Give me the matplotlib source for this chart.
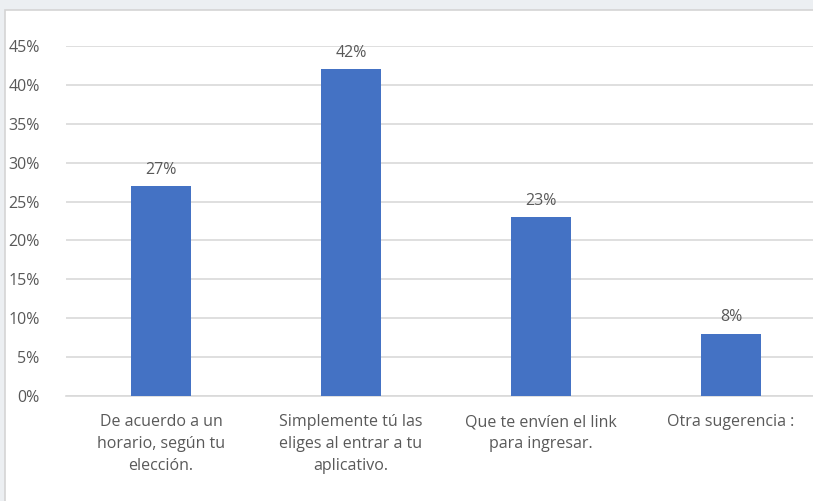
import matplotlib.pyplot as plt
from matplotlib.patches import Rectangle
from matplotlib.ticker import PercentFormatter

categorias = ['De acuerdo a un\nhorario, según tu\nelección.',
              'Simplemente tú las\neliges al entrar a tu\naplicativo.',
              'Que te envíen el link\npara ingresar.',
              'Otra sugerencia :']
porcentajes = [0.27, 0.42, 0.23, 0.08]

plt.rcParams['font.family'] = ['Open Sans', 'DejaVu Sans']
gris = '#595959'

fig = plt.figure(figsize=(8.13, 5.01), dpi=100)
fig.patch.set_facecolor('#eceff2')

# panel blanco del grafico
fig.patches.append(Rectangle((5 / 813, -0.05), 1, 1.05 - 10 / 501, transform=fig.transFigure,
                             facecolor='white', edgecolor='#d4d4d4', linewidth=1.2, zorder=-5))

ax = fig.add_axes([66 / 813, 1 - 396 / 501, 760 / 813, 350 / 501])
ax.set_facecolor('none')

x = range(len(categorias))
barras = ax.bar(x, porcentajes, width=0.316, color='#4472c4', zorder=3)

for xi, v in zip(x, porcentajes):
    ax.annotate(f'{v:.0%}', (xi, v), xytext=(0, 6), textcoords='offset points',
                ha='center', va='bottom', fontsize=11.5, color=gris)

ax.set_ylim(0, 0.45)
ax.set_xlim(-0.5, 3.5)
ax.set_yticks([i * 0.05 for i in range(10)])
ax.yaxis.set_major_formatter(PercentFormatter(1.0, decimals=0))
ax.grid(axis='y', color='#d9d9d9', linewidth=1.2, zorder=0)
ax.set_xticks(list(x))
ax.set_xticklabels(categorias, fontsize=11.5, color=gris, linespacing=1.5)
ax.tick_params(axis='y', labelsize=11.5, labelcolor=gris, length=0, pad=19)
ax.tick_params(axis='x', length=0, pad=13)
for lado in ['top', 'right', 'left']:
    ax.spines[lado].set_visible(False)
ax.spines['bottom'].set_color('#d9d9d9')
ax.spines['bottom'].set_linewidth(1.2)

plt.savefig('out.png', dpi=100)
